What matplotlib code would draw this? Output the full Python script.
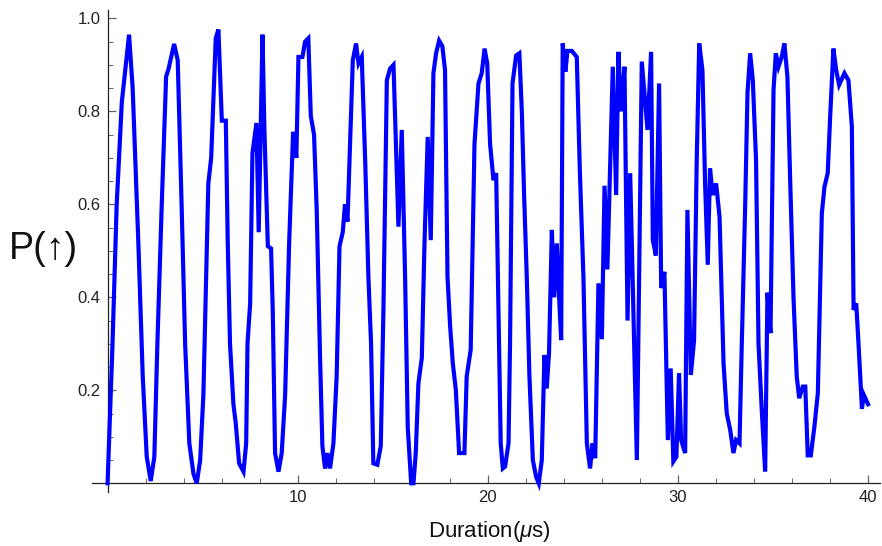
import matplotlib
matplotlib.use("Agg")
import matplotlib.pyplot as plt
from matplotlib.ticker import MultipleLocator, FixedLocator

plt.rcParams['font.family'] = ['Liberation Sans', 'DejaVu Sans']
plt.rcParams['mathtext.fontset'] = 'custom'
plt.rcParams['mathtext.it'] = 'Liberation Sans:italic'
plt.rcParams['mathtext.rm'] = 'Liberation Sans'

# Duration (microseconds) and probability
duration = [
    0.0, 0.26, 0.48, 0.75, 1.13, 1.32, 1.62, 1.85, 2.06, 2.27, 2.46, 2.62, 2.85, 3.08, 3.2, 3.5, 3.69,
    3.9, 4.08, 4.3, 4.52, 4.69,
    4.87, 5.04, 5.22, 5.30, 5.45, 5.69, 5.83, 6.01, 6.22, 6.32, 6.44, 6.62, 6.74, 6.92, 7.15, 7.29,
    7.36, 7.5, 7.62, 7.83, 7.95, 8.15, 8.25, 8.43, 8.6, 8.69, 8.81, 8.99, 9.16, 9.34, 9.55, 9.76,
    9.93, 10.04, 10.25, 10.39, 10.56, 10.69, 10.86, 11.0, 11.18, 11.3, 11.44, 11.56, 11.70, 11.88,
    12.05, 12.2, 12.37, 12.49, 12.62, 12.9, 13.07, 13.2, 13.37, 13.55, 13.72, 13.86, 13.98, 14.19,
    14.37, 14.51, 14.69, 14.86, 15.04,
    15.3, 15.475, 15.65, 15.79, 15.97, 16.09, 16.21, 16.35, 16.53, 16.67, 16.84, 17.0, 17.14, 17.28,
    17.44, 17.61, 17.75, 17.88, 18.02, 18.16, 18.32, 18.49, 18.77, 18.89, 19.1, 19.3, 19.51, 19.68,
    19.83, 19.97, 20.12, 20.30, 20.44, 20.56, 20.68, 20.79, 20.91, 21.09, 21.17, 21.3, 21.49, 21.66,
    21.79, 21.91, 22.05, 22.19, 22.37, 22.54, 22.68, 22.84, 22.98, 23.1, 23.22, 23.37, 23.49, 23.63,
    23.75, 23.86, 23.94, 24.08, 24.19, 24.42, 24.68, 24.84, 25.03, 25.21, 25.38, 25.51, 25.65,
    25.82, 26.0, 26.14, 26.29, 26.575, 26.75, 26.87, 27.01, 27.19, 27.35, 27.49, 27.84, 28.1, 28.40,
    28.59, 28.68, 28.84, 29.01, 29.12, 29.29, 29.47, 29.62, 29.76, 29.92, 30.06, 30.17, 30.38, 30.5,
    30.68, 30.85, 30.99, 31.12, 31.29, 31.43, 31.57, 31.69, 31.83, 32.01, 32.19, 32.4, 32.57, 32.75,
    32.92, 33.06, 33.24, 33.36, 33.54, 33.66, 33.8, 33.94, 34.11, 34.24, 34.41, 34.59, 34.71, 34.87,
    35.03, 35.15, 35.29, 35.46, 35.6, 35.76, 35.9, 36.08, 36.25, 36.38, 36.57, 36.7, 36.83, 36.99,
    37.18, 37.36, 37.48, 37.57, 37.71, 37.88, 38.01, 38.18, 38.32, 38.48, 38.76, 38.97, 39.15,
    39.24, 39.38, 39.5, 39.59, 39.68, 39.78, 40.0,
]
prob_up = [
    0.0, 0.30, 0.60, 0.82, 0.965, 0.85, 0.516, 0.23, 0.057, 0.005, 0.057, 0.30, 0.60, 0.875, 0.89,
    0.945, 0.91, 0.59, 0.30, 0.086, 0.02, 0.0,
    0.05, 0.19, 0.50, 0.645, 0.70, 0.957, 0.976, 0.78, 0.78, 0.52, 0.30, 0.17, 0.13, 0.043, 0.025,
    0.086, 0.30, 0.387, 0.71, 0.775, 0.54, 0.965, 0.76, 0.51, 0.505, 0.37, 0.065, 0.025, 0.065,
    0.19, 0.516, 0.756, 0.70, 0.917, 0.917, 0.95, 0.957, 0.79, 0.75, 0.59, 0.265, 0.08, 0.032,
    0.065, 0.032, 0.086, 0.23, 0.51, 0.54, 0.60, 0.563, 0.91, 0.946, 0.903, 0.917, 0.695, 0.444,
    0.30, 0.043, 0.04, 0.08, 0.373, 0.867, 0.892, 0.90,
    0.552, 0.76, 0.444, 0.12, 0.0, 0.0, 0.065, 0.215, 0.27, 0.516, 0.745, 0.523, 0.882, 0.925,
    0.952, 0.94, 0.889, 0.444, 0.337, 0.258, 0.2, 0.065, 0.065, 0.23, 0.287, 0.73, 0.86, 0.882,
    0.935, 0.903, 0.73, 0.652, 0.667, 0.373, 0.086, 0.032, 0.036, 0.086, 0.30, 0.86, 0.92, 0.925,
    0.80, 0.62, 0.444, 0.23, 0.05, 0.014, 0.0, 0.05, 0.276, 0.204, 0.28, 0.545, 0.40, 0.516,
    0.40, 0.308, 0.946, 0.885, 0.93, 0.93, 0.917, 0.674, 0.444, 0.086, 0.032, 0.086, 0.054,
    0.43, 0.31, 0.64, 0.46, 0.896, 0.62, 0.928, 0.80, 0.896, 0.35, 0.667, 0.05, 0.907, 0.76,
    0.928, 0.523, 0.49, 0.86, 0.42, 0.455, 0.093, 0.247, 0.047, 0.057, 0.237, 0.093, 0.065, 0.588,
    0.233, 0.308, 0.695, 0.946, 0.889, 0.645, 0.47, 0.677, 0.62, 0.645, 0.573, 0.258, 0.15, 0.115,
    0.065, 0.093, 0.086, 0.30, 0.60, 0.84, 0.925, 0.867, 0.695, 0.30, 0.158, 0.025, 0.41, 0.323,
    0.846, 0.925, 0.896, 0.917, 0.946, 0.875, 0.66, 0.40, 0.23, 0.183, 0.208, 0.208, 0.06, 0.06,
    0.122, 0.194, 0.41, 0.58, 0.638, 0.667, 0.79, 0.935, 0.89, 0.857, 0.882, 0.867, 0.767,
    0.373, 0.387, 0.30, 0.23, 0.16, 0.19, 0.17,
]

x_major = [10, 20, 30, 40]
y_major = [0.2, 0.4, 0.6, 0.8, 1.0]

fig = plt.figure(figsize=(8.82, 5.46), dpi=100)
# axes box: x from px 91.6 to 880, y from px 10 to 492
ax = fig.add_axes([91.6 / 882, 54 / 546, (880 - 91.6) / 882, (492 - 10) / 546])

ax.plot(duration, prob_up, color='#0000ff', lw=3.0, solid_joinstyle='miter', clip_on=False,
        zorder=3)

ax.set_xlim(-0.84, 40.63)
ax.set_ylim(-0.0187, 1.018)

for s in ['top', 'right']:
    ax.spines[s].set_visible(False)
ax.spines['left'].set_position(('data', 0))
ax.spines['bottom'].set_position(('data', 0))
for s in ['left', 'bottom']:
    ax.spines[s].set_color('#222222')
    ax.spines[s].set_linewidth(0.9)

ax.xaxis.set_major_locator(FixedLocator(x_major))
ax.xaxis.set_minor_locator(MultipleLocator(2))
ax.yaxis.set_major_locator(FixedLocator(y_major))
ax.yaxis.set_minor_locator(MultipleLocator(0.05))
ax.set_xticklabels([str(v) for v in x_major])
ax.set_yticklabels([f"{v:.1f}" for v in y_major])

ax.tick_params(which='major', direction='in', length=6.0, width=0.9, color='#666666',
               labelsize=12, labelcolor='#222222', pad=5)
ax.tick_params(which='minor', direction='in', length=3.8, width=0.7, color='#666666')

fig.text(489 / 882, 1 - 532 / 546, "Duration($μ$s)", fontsize=16, ha='center', va='center',
         color='#111111')
fig.text(43 / 882, 1 - 249 / 546, "P(↑)", fontsize=27, ha='center', va='center', color='#111111',
         family=['Liberation Sans', 'DejaVu Sans'])

fig.savefig("out.png", dpi=100)
